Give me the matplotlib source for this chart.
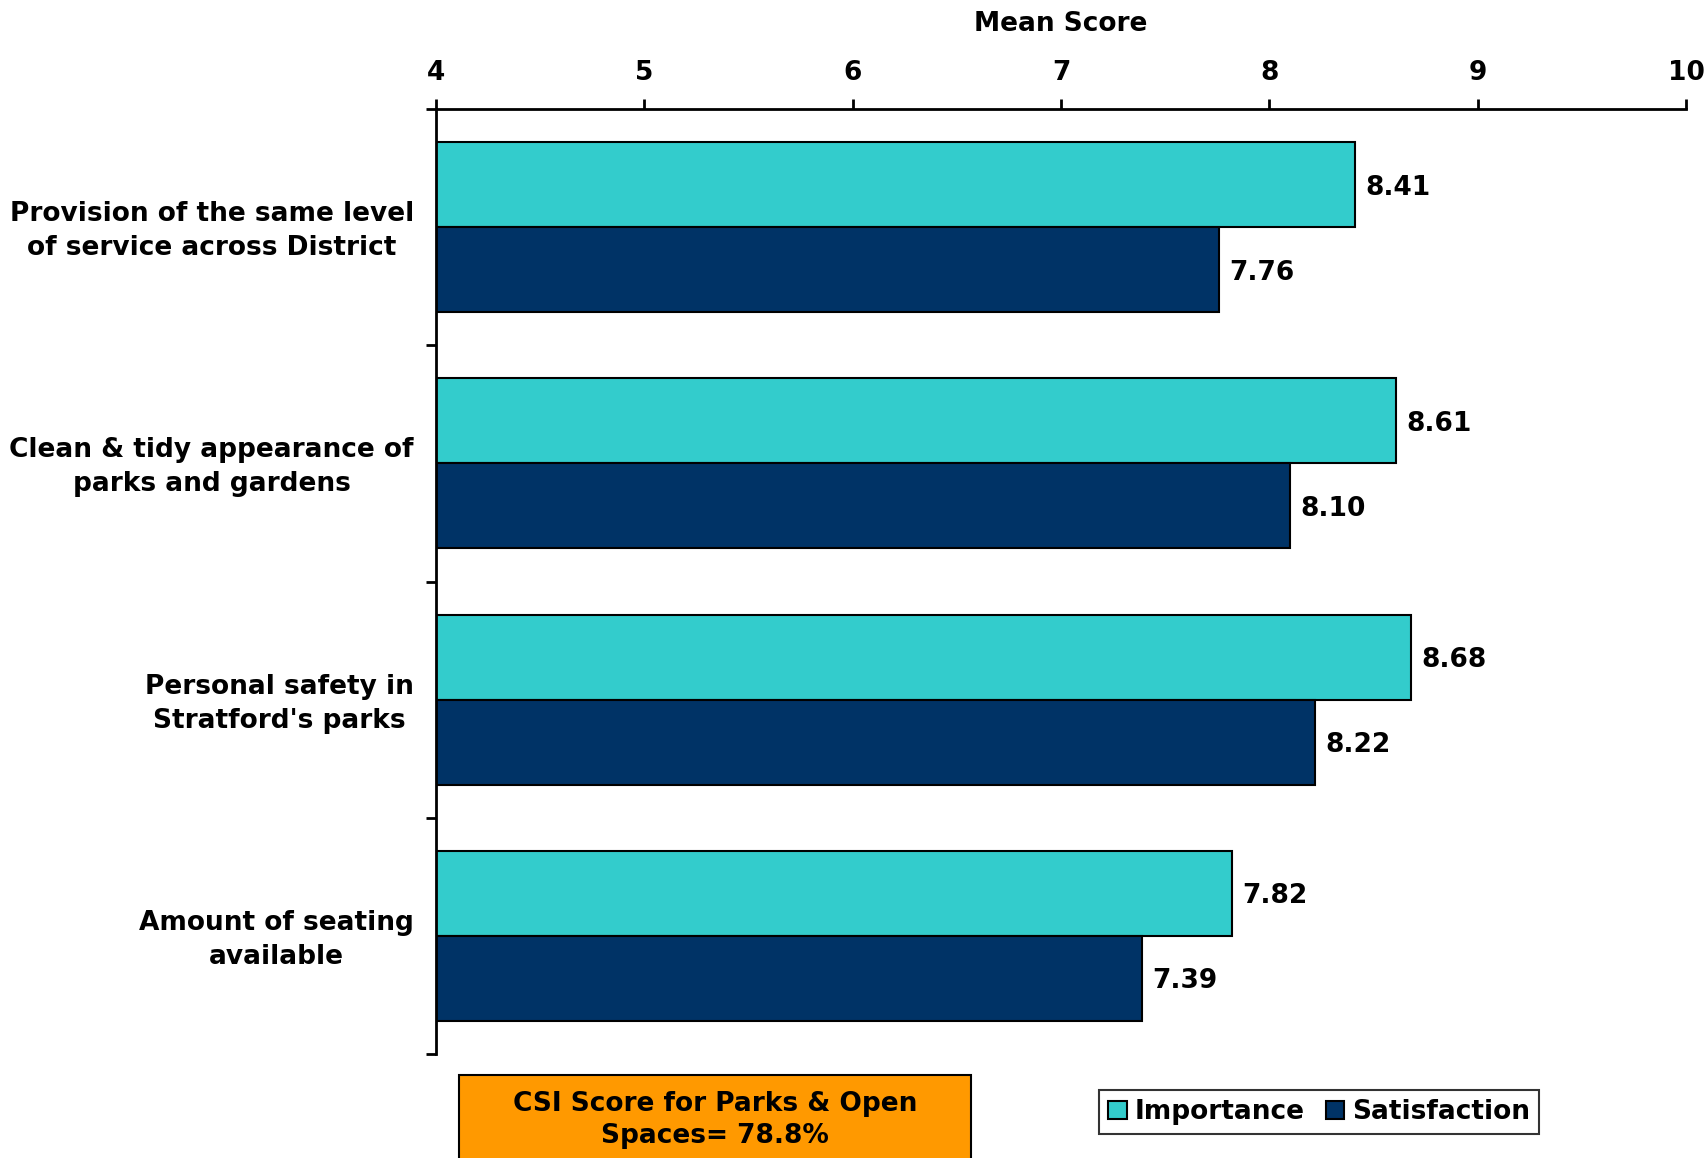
import matplotlib
matplotlib.use("Agg")
import matplotlib.pyplot as plt
import numpy as np
from matplotlib.patches import Rectangle

categories = ["Provision of the same level\nof service across District",
              "Clean & tidy appearance of\nparks and gardens",
              "Personal safety in\nStratford's parks",
              "Amount of seating\navailable"]
importance = [8.41, 8.61, 8.68, 7.82]
satisfaction = [7.76, 8.10, 8.22, 7.39]
xticks = [4, 5, 6, 7, 8, 9, 10]
csi_text = "CSI Score for Parks & Open\nSpaces= 78.8%"

plt.rcParams['font.family'] = ['DejaVu Sans']
plt.rcParams['font.weight'] = 'bold'

FS = 19

fig = plt.figure(figsize=(17.08, 11.58), dpi=100)
ax = fig.add_axes([436/1708, 1-1054/1158, 1250/1708, 945/1158])

teal = "#33CCCC"
navy = "#003366"
n = len(categories)
y = np.arange(n)
h = 0.36
b1 = ax.barh(y - h/2, [v - 4 for v in importance], left=4, height=h, color=teal,
             edgecolor="black", linewidth=1.5, label="Importance")
b2 = ax.barh(y + h/2, [v - 4 for v in satisfaction], left=4, height=h, color=navy,
             edgecolor="black", linewidth=1.5, label="Satisfaction")
for yi, v in zip(y - h/2, importance):
    ax.text(v + 0.05, yi, f"{v:.2f}", va="center_baseline", ha="left", fontsize=FS,
            fontweight="bold")
for yi, v in zip(y + h/2, satisfaction):
    ax.text(v + 0.05, yi, f"{v:.2f}", va="center_baseline", ha="left", fontsize=FS,
            fontweight="bold")

ax.set_xlim(4, 10)
ax.set_ylim(n - 0.5, -0.5)
ax.xaxis.tick_top()
ax.set_xticks(xticks)
ax.set_xticklabels([str(t) for t in xticks], fontsize=FS, fontweight="bold")
ax.tick_params(axis="x", direction="out", length=7, width=2, pad=9.5)
ax.set_yticks(np.arange(-0.5, n, 1.0), minor=False)
ax.set_yticklabels([])
ax.tick_params(axis="y", direction="out", length=7, width=2)
ax.set_yticks(y + 0.017, minor=True)
ax.set_yticklabels(categories, minor=True, fontsize=FS, fontweight="bold",
                   ha="right", multialignment="center", linespacing=1.4,
                   va="center")
ax.tick_params(axis="y", which="minor", length=0, pad=16)
for lbl in ax.get_yticklabels(minor=True):
    lbl.set_multialignment("center")
for sp in ["right", "bottom"]:
    ax.spines[sp].set_visible(False)
ax.spines["top"].set_linewidth(2)
ax.spines["left"].set_linewidth(2)

fig.text(1061/1708, 1 - 24/1158, "Mean Score", ha="center", va="center",
         fontsize=FS, fontweight="bold")

# CSI box
fig.patches.append(Rectangle((459/1708, -0.05), 512/1708, 0.05 + (1158-1075)/1158,
                             transform=fig.transFigure, facecolor="#FF9900",
                             edgecolor="black", linewidth=1.5))
fig.text(715/1708, 1 - 1120/1158, csi_text, ha="center", va="center", fontsize=FS,
         fontweight="bold", linespacing=1.3)

leg = fig.legend(handles=[b1, b2], loc="center", bbox_to_anchor=(1319/1708, 1 - 1112/1158),
                 ncol=2, frameon=True, fancybox=False, handlelength=0.7,
                 handleheight=0.7, handletextpad=0.3, columnspacing=0.8, borderpad=0.35,
                 prop={"weight": "bold", "size": 19})
leg.get_frame().set_edgecolor("black")
leg.get_frame().set_linewidth(1.5)

fig.savefig("out.png", dpi=100)
